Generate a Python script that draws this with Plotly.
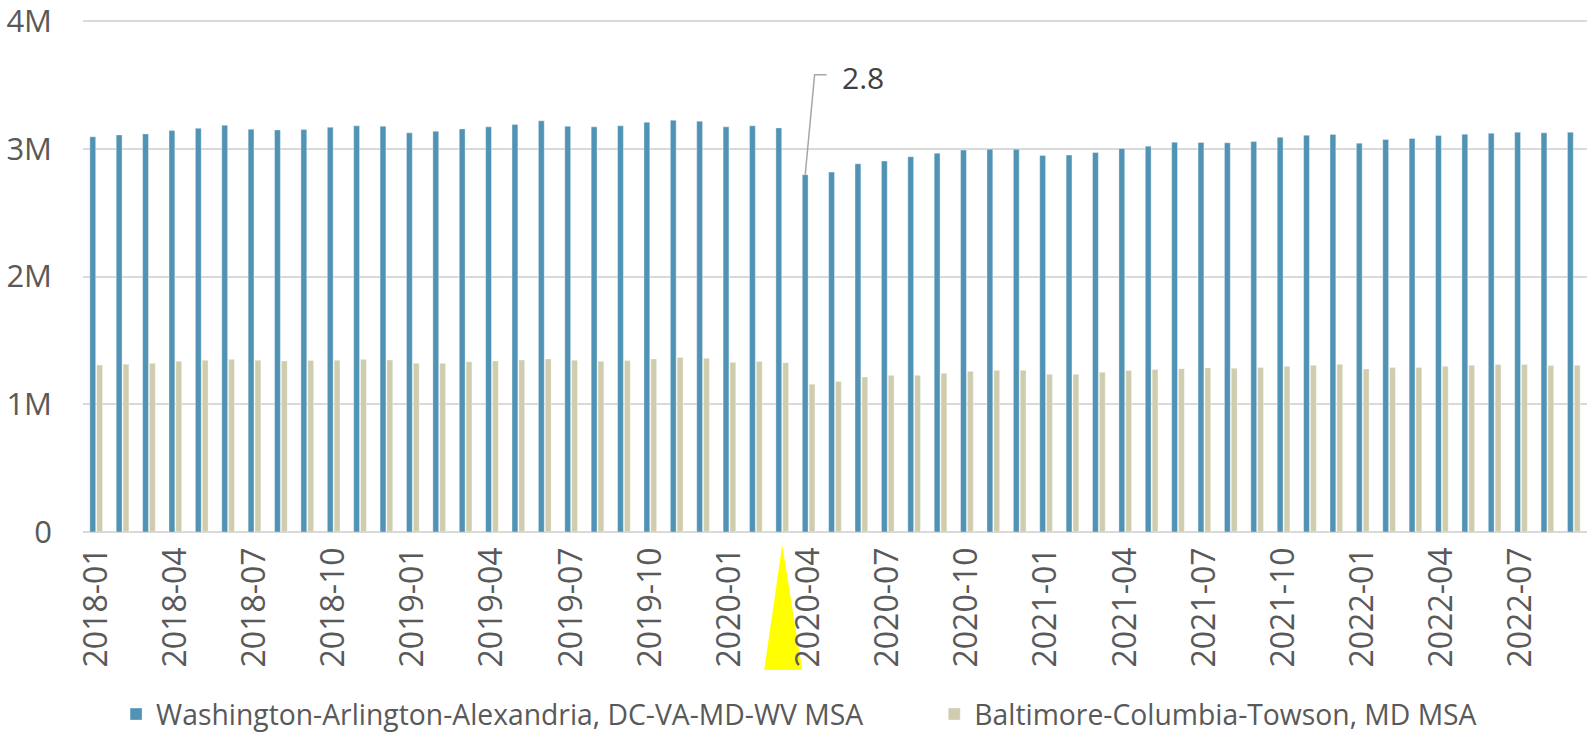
import plotly.graph_objects as go

# monthly categories 2018-01 .. 2022-09
months = [f"{y}-{m:02d}" for y in range(2018, 2023) for m in range(1, 13)][:57]

# Washington-Arlington-Alexandria (millions)
washington = [
    3.094, 3.109, 3.117, 3.143, 3.161, 3.185, 3.154, 3.148, 3.151, 3.169, 3.180, 3.177,
    3.125, 3.138, 3.156, 3.172, 3.190, 3.219, 3.177, 3.172, 3.180, 3.208, 3.224, 3.216,
    3.172, 3.180, 3.164, 2.797, 2.818, 2.883, 2.904, 2.938, 2.966, 2.990, 2.997, 2.997,
    2.948, 2.951, 2.971, 3.003, 3.021, 3.052, 3.049, 3.047, 3.057, 3.091, 3.107, 3.112,
    3.044, 3.073, 3.081, 3.104, 3.115, 3.122, 3.130, 3.125, 3.130,
]

# Baltimore-Columbia-Towson (millions)
baltimore = [
    1.308, 1.313, 1.321, 1.337, 1.345, 1.352, 1.345, 1.339, 1.342, 1.345, 1.352, 1.347,
    1.321, 1.321, 1.332, 1.339, 1.347, 1.355, 1.345, 1.337, 1.342, 1.355, 1.366, 1.360,
    1.329, 1.334, 1.326, 1.157, 1.178, 1.214, 1.227, 1.227, 1.243, 1.258, 1.266, 1.266,
    1.235, 1.235, 1.251, 1.264, 1.272, 1.279, 1.285, 1.282, 1.287, 1.298, 1.305, 1.313,
    1.277, 1.287, 1.287, 1.298, 1.305, 1.311, 1.311, 1.303, 1.305,
]

tick_months = months[::3]
y_ticks = [0, 1e6, 2e6, 3e6, 4e6]
y_labels = ["0", "1M", "2M", "3M", "4M"]

callout_month = "2020-04"
callout_text = "2.8"
marker_month = "2020-03"

BLUE = "#5093B4"
BEIGE = "#D0CCAE"
GREY = "#595959"
FONT = "Open Sans"

fig = go.Figure()
fig.add_trace(go.Bar(x=months, y=[v * 1e6 for v in washington],
                     name="Washington-Arlington-Alexandria, DC-VA-MD-WV MSA",
                     marker=dict(color=BLUE, line=dict(color="rgba(255,255,255,0.6)", width=0.6)),
                     legend="legend"))
fig.add_trace(go.Bar(x=months, y=[v * 1e6 for v in baltimore],
                     name="Baltimore-Columbia-Towson, MD MSA",
                     marker=dict(color=BEIGE, line=dict(color="rgba(255,255,255,0.6)", width=0.6)),
                     legend="legend2"))

callout_y = washington[months.index(callout_month)] * 1e6

# leader line with an elbow, drawn in pixels from the bar top
fig.add_shape(type="path", xref="x", yref="y", xsizemode="pixel", ysizemode="pixel",
              xanchor=callout_month, yanchor=callout_y,
              path="M -3.4,0 L 6,100 L 18,100",
              line=dict(color="#A6A6A6", width=1.5), layer="above")
fig.add_annotation(x=callout_month, y=callout_y, xref="x", yref="y",
                   text=callout_text, showarrow=False, xanchor="left", yanchor="middle",
                   xshift=31, yshift=97, font=dict(family=FONT, size=30, color="#404040"))

# yellow pointer under the axis
fig.add_shape(type="path", xref="x", yref="paper", xsizemode="pixel", ysizemode="pixel",
              xanchor=marker_month, yanchor=0,
              path="M 0,-13 L -18,-138 L 20,-138 Z",
              fillcolor="#FFFF00", line=dict(width=0), layer="below")

legend_font = dict(family=FONT, size=28.3, color=GREY)
fig.update_layout(
    width=1589, height=732,
    margin=dict(l=83, r=2, t=16, b=200, autoexpand=False),
    paper_bgcolor="white", plot_bgcolor="white",
    barmode="group", bargap=0.48, bargroupgap=0.15,
    font=dict(family=FONT, color=GREY),
    showlegend=True,
    legend=dict(orientation="h", x=0.022, xanchor="left", y=-0.353, yanchor="middle",
                font=legend_font),
    legend2=dict(orientation="h", x=0.566, xanchor="left", y=-0.353, yanchor="middle",
                 font=legend_font),
)
fig.update_xaxes(type="category", tickmode="array", tickvals=tick_months, ticktext=tick_months,
                 tickangle=-90, tickfont=dict(family=FONT, size=32, color=GREY),
                 showgrid=False, showline=False, ticks="", ticklabelstandoff=8)
fig.update_yaxes(range=[0, 4.04e6], tickmode="array", tickvals=y_ticks, ticktext=y_labels,
                 tickfont=dict(family=FONT, size=31, color=GREY),
                 showgrid=True, gridcolor="#D9D9D9", gridwidth=1.5,
                 zeroline=True, zerolinecolor="#D9D9D9", zerolinewidth=2,
                 ticklabelstandoff=30, ticklabeloverflow="allow")

fig.write_html("out.html", config={"displayModeBar": False},
               post_script="document.body.style.margin='0';")
